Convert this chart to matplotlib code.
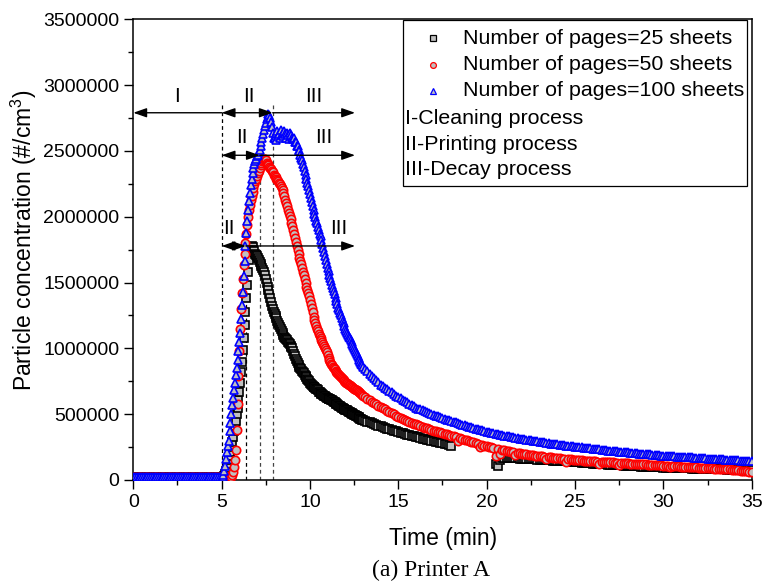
import numpy as np
import matplotlib
matplotlib.use("Agg")
import matplotlib.pyplot as plt
from matplotlib.patches import Rectangle
from matplotlib.ticker import MultipleLocator, FuncFormatter

plt.rcParams['font.family'] = ['Liberation Sans', 'DejaVu Sans']
plt.rcParams['mathtext.fontset'] = 'custom'
plt.rcParams['mathtext.rm'] = 'Liberation Sans'
plt.rcParams['mathtext.it'] = 'Liberation Sans:italic'

nan = np.nan
# ---------------- data (particle concentration, thousands #/cm3) ----------------
# sampling grid (min)
t = np.concatenate([
    np.round(np.arange(0.0, 4.95, 0.1), 2),     # 50 pts
    np.round(np.arange(5.0, 7.99, 0.05), 2),    # 60 pts
    np.round(np.arange(8.0, 12.99, 0.05), 2),   # 100 pts
    np.arange(13.0, 35.001, 0.125),             # 177 pts
])

black_25 = [
    # 0.0 - 4.9
    20, 21, 20, 19, 20, 20, 21, 20, 19, 20,
    20, 20, 21, 20, 20, 19, 20, 20, 21, 20,
    20, 19, 20, 20, 21, 20, 20, 20, 19, 20,
    21, 20, 20, 19, 20, 20, 21, 20, 20, 20,
    19, 20, 20, 21, 20, 20, 19, 20, 20, 20,
    # 5.00 - 7.95
    20, 20, 22, 30, 45, 65, 90, 120, 150, 180,
    210, 250, 290, 330, 370, 410, 450, 500, 550, 610,
    670, 740, 820, 900, 990, 1080, 1180, 1280, 1380, 1480,
    1580, 1670, 1730, 1770, 1780, 1770, 1750, 1740, 1720, 1710,
    1700, 1685, 1670, 1655, 1640, 1625, 1610, 1595, 1580, 1560,
    1530, 1500, 1470, 1440, 1410, 1380, 1350, 1325, 1300, 1280,
    # 8.00 - 12.95
    1260, 1245, 1230, 1210, 1190, 1175, 1160, 1145, 1130, 1115,
    1100, 1090, 1080, 1070, 1060, 1050, 1040, 1030, 1020, 1010,
    1000, 980, 960, 940, 920, 905, 890, 875, 860, 850,
    840, 830, 820, 810, 800, 790, 780, 770, 760, 750,
    740, 730, 720, 715, 710, 705, 700, 695, 690, 680,
    670, 665, 660, 655, 650, 645, 640, 635, 630, 625,
    620, 617, 615, 612, 610, 605, 600, 595, 590, 585,
    580, 575, 570, 565, 560, 555, 550, 545, 540, 537,
    535, 532, 530, 525, 520, 515, 510, 507, 505, 500,
    495, 492, 490, 485, 480, 475, 470, 466, 462, 458,
    # 13.000 - 35.000 (every 0.125 min)
    455, 449, 443, 438, 432, 426, 420, 414,
    408, 402, 396, 391, 385, 380, 375, 370,
    365, 360, 355, 350, 345, 340, 336, 331,
    327, 323, 318, 314, 310, 306, 302, 298,
    294, 290, 286, 282, 278, 274, 270, 266,
    258, nan, nan, nan, nan, nan, nan, nan,
    nan, nan, nan, nan, nan, nan, nan, nan,
    nan, nan, nan, nan, 120, 105, 150, 165,
    170, 169, 168, 167, 166, 165, 164, 163,
    162, 161, 160, 159, 158, 157, 156, 155,
    154, 153, 152, 151, 150, 149, 148, 147,
    146, 145, 144, 143, 142, 141, 140, 139,
    137, 135, 134, 132, 131, 129, 128, 126,
    125, 123, 122, 121, 120, 119, 118, 117,
    116, 115, 114, 113, 112, 111, 110, 109,
    108, 107, 106, 105, 104, 103, 102, 101,
    100, 99, 98, 97, 96, 96, 95, 95,
    94, 93, 93, 92, 92, 91, 91, 90,
    90, 89, 89, 88, 88, 87, 87, 86,
    86, 85, 85, 84, 84, 83, 83, 82,
    82, 81, 81, 80, 80, 79, 79, 78,
    78, 77, 77, 76, 76, 75, 75, 74,
    74,
]

red_50 = [
    # 0.0 - 4.9
    20, 20, 21, 20, 19, 20, 20, 21, 20, 20,
    19, 20, 20, 20, 21, 20, 20, 19, 20, 20,
    21, 20, 20, 20, 19, 20, 21, 20, 20, 20,
    20, 19, 20, 21, 20, 20, 20, 19, 20, 21,
    20, 20, 19, 20, 20, 21, 20, 20, 20, 19,
    # 5.00 - 7.95
    20, 20, 20, 20, 20, 20, 20, 20, 20, 20,
    20, 25, 35, 60, 100, 150, 230, 380, 580, 790,
    980, 1150, 1300, 1420, 1530, 1630, 1720, 1800, 1870, 1940,
    2000, 2050, 2090, 2130, 2160, 2190, 2220, 2250, 2270, 2290,
    2310, 2330, 2350, 2370, 2390, 2410, 2420, 2430, 2440, 2440,
    2430, 2410, 2400, 2390, 2380, 2370, 2360, 2350, 2340, 2320,
    # 8.00 - 12.95
    2310, 2300, 2290, 2280, 2270, 2260, 2250, 2235, 2220, 2200,
    2180, 2155, 2130, 2105, 2080, 2055, 2030, 2005, 1980, 1955,
    1930, 1900, 1870, 1840, 1810, 1780, 1750, 1720, 1690, 1665,
    1640, 1610, 1580, 1555, 1530, 1500, 1470, 1445, 1420, 1395,
    1370, 1340, 1310, 1275, 1240, 1215, 1190, 1170, 1150, 1130,
    1110, 1095, 1080, 1065, 1050, 1035, 1020, 1005, 990, 970,
    950, 930, 910, 895, 880, 870, 860, 850, 840, 830,
    820, 812, 805, 797, 790, 782, 775, 767, 760, 752,
    745, 740, 735, 730, 725, 720, 715, 710, 705, 700,
    695, 690, 685, 680, 675, 670, 665, 660, 655, 648,
    # 13.000 - 35.000 (every 0.125 min)
    640, 628, 617, 606, 596, 585, 575, 565,
    555, 545, 536, 527, 518, 508, 499, 490,
    482, 474, 466, 458, 450, 443, 436, 429,
    422, 416, 410, 404, 398, 392, 387, 381,
    376, 371, 366, 361, 356, 351, 346, 341,
    336, 331, 326, 300, 316, 311, 306, 301,
    296, 291, 285, 280, 275, 250, 265, 260,
    255, 251, 247, 243, 180, 235, 200, 229,
    225, 222, 219, 216, 212, 190, 206, 203,
    200, 198, 196, 193, 191, 189, 186, 184,
    182, 180, 178, 160, 174, 172, 170, 168,
    166, 164, 163, 161, 140, 158, 157, 155,
    154, 152, 151, 150, 148, 147, 146, 144,
    143, 142, 140, 125, 138, 137, 136, 135,
    134, 133, 132, 131, 115, 129, 128, 127,
    126, 125, 124, 123, 122, 121, 120, 119,
    118, 117, 116, 115, 114, 113, 112, 111,
    110, 109, 108, 95, 106, 105, 104, 103,
    102, 101, 100, 99, 98, 97, 96, 95,
    94, 93, 92, 91, 90, 89, 88, 87,
    86, 85, 84, 83, 82, 81, 80, 79,
    78, 76, 74, 72, 70, 68, 66, 64,
    62,
]

blue_100 = [
    # 0.0 - 4.9
    20, 20, 20, 21, 20, 20, 19, 20, 20, 21,
    20, 20, 19, 20, 20, 20, 21, 20, 20, 19,
    20, 20, 21, 20, 20, 19, 20, 20, 20, 21,
    20, 20, 19, 20, 21, 20, 20, 20, 19, 20,
    20, 21, 20, 20, 19, 20, 20, 21, 20, 20,
    # 5.00 - 7.95
    20, 25, 40, 70, 110, 160, 210, 260, 300, 370,
    430, 500, 570, 620, 680, 740, 800, 850, 910, 980,
    1050, 1120, 1220, 1330, 1430, 1550, 1660, 1780, 1880, 1970,
    2050, 2120, 2180, 2240, 2290, 2330, 2370, 2400, 2420, 2440,
    2460, 2470, 2490, 2510, 2540, 2570, 2600, 2630, 2660, 2690,
    2710, 2740, 2760, 2780, 2770, 2750, 2720, 2680, 2640, 2600,
    # 8.00 - 12.95
    2600, 2640, 2580, 2650, 2610, 2630, 2600, 2660, 2620, 2640,
    2610, 2650, 2630, 2600, 2640, 2620, 2590, 2640, 2610, 2620,
    2600, 2590, 2600, 2570, 2570, 2540, 2540, 2510, 2500, 2470,
    2450, 2430, 2400, 2380, 2350, 2320, 2290, 2260, 2230, 2200,
    2170, 2140, 2110, 2080, 2050, 2020, 2000, 1970, 1950, 1920,
    1900, 1870, 1850, 1820, 1790, 1760, 1730, 1700, 1670, 1640,
    1610, 1585, 1560, 1535, 1510, 1485, 1460, 1435, 1410, 1385,
    1360, 1335, 1310, 1290, 1270, 1250, 1230, 1210, 1190, 1170,
    1150, 1135, 1120, 1105, 1090, 1075, 1060, 1045, 1030, 1015,
    1000, 985, 970, 955, 940, 925, 910, 895, 880, 870,
    # 13.000 - 35.000 (every 0.125 min)
    860, 843, 826, 809, 792, 775, 758, 741,
    725, 713, 701, 689, 677, 665, 653, 641,
    630, 620, 610, 600, 590, 580, 570, 560,
    550, 543, 536, 529, 522, 515, 508, 501,
    495, 489, 483, 477, 471, 465, 459, 453,
    448, 442, 437, 431, 426, 420, 415, 409,
    404, 399, 395, 390, 386, 381, 377, 372,
    368, 364, 360, 357, 353, 349, 345, 342,
    338, 335, 331, 328, 325, 322, 318, 315,
    312, 309, 306, 304, 301, 298, 295, 293,
    290, 287, 285, 282, 280, 277, 275, 272,
    270, 268, 266, 264, 262, 260, 258, 256,
    254, 252, 250, 248, 246, 244, 243, 241,
    239, 237, 235, 233, 231, 228, 226, 224,
    222, 220, 219, 217, 215, 214, 212, 211,
    209, 207, 206, 204, 203, 201, 200, 198,
    197, 195, 194, 192, 191, 189, 188, 186,
    185, 184, 183, 181, 180, 179, 178, 177,
    176, 175, 174, 173, 172, 171, 169, 168,
    167, 166, 165, 164, 163, 162, 161, 160,
    159, 158, 157, 156, 155, 154, 153, 152,
    151, 150, 149, 148, 147, 146, 145, 145,
    144,
]

series_labels = ["Number of pages=25 sheets", "Number of pages=50 sheets",
                 "Number of pages=100 sheets"]
process_labels = ["I-Cleaning process", "II-Printing process", "III-Decay process"]

# phase boundaries (min) and the height (thousands) each dashed line reaches
phase_lines = [5.0, 6.37, 7.16, 7.89]
phase_tops = [2866, 1780, 2420, 2866]
# arrow rows: y level and the II/III boundary of each row
arrow_rows_y = [2790, 2467, 1778]
arrow_rows_split = [7.89, 7.16, 6.37]
arrow_end = 12.55
label_rows_y = [2910, 2600, 1910]
label_II_x = [6.56, 6.16, 5.43]
label_III_x = [10.2, 10.8, 11.65]

# ---------------- figure ----------------
W, H = 765, 588
fig = plt.figure(figsize=(W / 100, H / 100), dpi=100)
ax = fig.add_axes([133.3 / W, 1 - 480 / H, 618.4 / W, 460.7 / H])

scale = 1000.0
styles = [
    dict(marker='s', mec='black', ms=5.6),
    dict(marker='o', mec='red', ms=6.0),
    dict(marker='^', mec='blue', ms=6.4),
]
for vals, st in zip([black_25, red_50, blue_100], styles):
    y = np.array(vals, dtype=float) * scale
    ax.plot(t, y, ls='none', marker=st['marker'], ms=st['ms'], mfc='#c0c0c0',
            mec=st['mec'], mew=1.2, zorder=3)

# dashed phase lines
for i, (x, top) in enumerate(zip(phase_lines, phase_tops)):
    col = 'black' if i < 2 else '#444444'
    ax.plot([x, x], [0, top * scale], ls=(0, (3, 2.5)), color=col, lw=0.9, zorder=2)

# arrows
def arrow(x0, x1, y, style):
    ax.annotate('', xy=(x1, y), xytext=(x0, y),
                arrowprops=dict(arrowstyle=style + ',head_length=0.8,head_width=0.28',
                                color='black', lw=1.0, shrinkA=0, shrinkB=0,
                                mutation_scale=10),
                zorder=4)

for r, (yv, split) in enumerate(zip(arrow_rows_y, arrow_rows_split)):
    yv = yv * scale
    if r == 0:
        arrow(phase_lines[0], 0.0, yv, '-|>')
    arrow(phase_lines[0], split, yv, '<|-|>')
    arrow(split, arrow_end, yv, '-|>')

rfs = 15
ax.text(2.5, label_rows_y[0] * scale, 'I', ha='center', va='center', fontsize=rfs, zorder=5)
for r in range(3):
    ax.text(label_II_x[r], label_rows_y[r] * scale, 'II', ha='center', va='center',
            fontsize=rfs, zorder=5)
    ax.text(label_III_x[r], label_rows_y[r] * scale, 'III', ha='center', va='center',
            fontsize=rfs, zorder=5)

# axes formatting
ax.set_xlim(0, 35)
ax.set_ylim(0, 3500000)
ax.xaxis.set_major_locator(MultipleLocator(5))
ax.xaxis.set_minor_locator(MultipleLocator(2.5))
ax.yaxis.set_major_locator(MultipleLocator(500000))
ax.yaxis.set_minor_locator(MultipleLocator(250000))
ax.yaxis.set_major_formatter(FuncFormatter(lambda v, p: '%d' % v))
ax.tick_params(which='major', direction='out', length=6.5, width=1.0,
               labelsize=14, pad=3.5)
ax.tick_params(which='minor', direction='out', length=3.6, width=1.0)
for s in ax.spines.values():
    s.set_linewidth(1.1)

# manual legend
lx0, lx1, ly0, ly1 = 0.436, 0.992, 0.638, 0.9985
ax.add_patch(Rectangle((lx0, ly0), lx1 - lx0, ly1 - ly0, transform=ax.transAxes,
                       facecolor='white', edgecolor='black', lw=0.9, zorder=6))
row_y = [0.9588, 0.9009, 0.8444, 0.7852, 0.7272, 0.6729]
lfs = 15.4
for i, (lab, st) in enumerate(zip(series_labels, styles)):
    ax.plot([0.4846], [row_y[i]], transform=ax.transAxes, ls='none',
            marker=st['marker'], ms=4.2, mfc='#c0c0c0', mec=st['mec'], mew=0.9,
            zorder=7, clip_on=False)
    ax.text(0.533, row_y[i], lab, transform=ax.transAxes, ha='left', va='center',
            fontsize=lfs, zorder=7)
for j, lab in enumerate(process_labels):
    ax.text(0.4394, row_y[3 + j], lab, transform=ax.transAxes, ha='left',
            va='center', fontsize=lfs, zorder=7)

# labels
fig.text(443 / W, 1 - 539 / H, 'Time (min)', ha='center', va='center', fontsize=16.5)
fig.text(24 / W, 1 - 240 / H, 'Particle concentration (#/cm$^{3}$)', rotation=90,
         ha='center', va='center', fontsize=16.5)
fig.text(431 / W, 1 - 570 / H, '(a) Printer A', ha='center', va='center',
         fontsize=17, family='Liberation Serif')

fig.savefig('out.png', dpi=100)
